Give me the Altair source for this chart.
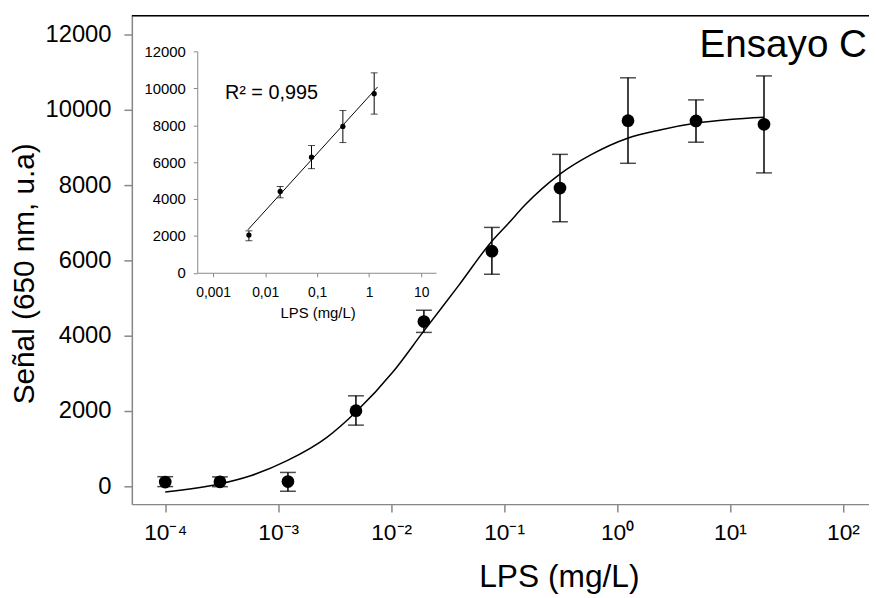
import json
import altair as alt
import pandas as pd

# ---------------- data ----------------
conc = [0.0001, 0.000305, 0.00122, 0.00488, 0.0195, 0.078, 0.3125, 1.25, 5.0, 20.0]
signal = [113, 120, 124, 2008, 4376, 6245, 7921, 9711, 9703, 9613]
sig_lo = [-8, -10, -132, 1624, 4087, 5632, 7026, 8579, 9139, 8324]
sig_hi = [255, 250, 368, 2403, 4676, 6876, 8816, 10850, 10263, 10900]

curve_x = [0.0001, 0.0003, 0.00057, 0.0012, 0.0027, 0.0049, 0.0104, 0.0192, 0.04,
           0.076, 0.109, 0.153, 0.31, 0.59, 1.24, 2.4, 4.9, 9.9, 20.0]
curve_y = [-150, 60, 280, 680, 1300, 1980, 3040, 4100, 5350,
           6470, 6980, 7470, 8285, 8808, 9245, 9465, 9640, 9740, 9800]

inset_conc = [0.00488, 0.0195, 0.078, 0.3125, 1.25]
inset_signal = [2042, 4407, 6266, 7932, 9706]
inset_lo = [1736, 4063, 5643, 7056, 8598]
inset_hi = [2273, 4675, 6895, 8792, 10834]
fit_x = [0.00466, 1.45]
fit_y = [2327, 10065]

main_xticks = [1e-4, 1e-3, 1e-2, 1e-1, 1, 10, 100]
main_xlabels = ["10⁻⁴", "10⁻³", "10⁻²", "10⁻¹", "10⁰", "10¹", "10²"]
yticks = [0, 2000, 4000, 6000, 8000, 10000, 12000]
inset_xticks = [0.001, 0.01, 0.1, 1, 10]
inset_xlabels = ["0,001", "0,01", "0,1", "1", "10"]

# ---------------- layout ----------------
W, H = 744, 493
FONT = "Liberation Sans"

main_df = pd.DataFrame({"conc": conc, "signal": signal, "lo": sig_lo, "hi": sig_hi})
curve_df = pd.DataFrame({"cx": curve_x, "cy": curve_y})
inset_df = pd.DataFrame({"conc": inset_conc, "signal": inset_signal, "lo": inset_lo, "hi": inset_hi})
fit_df = pd.DataFrame({"fx": fit_x, "fy": fit_y})

main_xs = alt.Scale(type="log", domain=[10 ** -4.2955, 10 ** 2.2306], nice=False)
main_ys = alt.Scale(domain=[-474, 12500], nice=False, zero=False)
inset_xs = alt.Scale(type="log", domain=[10 ** -3.305, 10 ** 1.286], range=[66, 307], nice=False)
inset_ys = alt.Scale(domain=[0, 12000], range=[259.5, 36], nice=False, zero=False)

main_x_axis = alt.Axis(
    values=main_xticks,
    labelExpr=json.dumps(main_xlabels, ensure_ascii=False) + "[round(log(datum.value)/LN10)+4]",
    tickSize=8, tickWidth=1.5, domainWidth=1.5, labelFontSize=23, labelPadding=10,
    titleFontSize=32, titleFontWeight="normal", titleX=431, titleY=83,
    titleBaseline="alphabetic", grid=False,
)
main_y_axis = alt.Axis(
    values=yticks, format="d", tickSize=8, tickWidth=1.5, domainWidth=1.5,
    labelFontSize=24, labelPadding=13, titleFontSize=30, titleFontWeight="normal",
    titleX=-93, titleY=260, titleAngle=270, grid=False,
)
inset_x_axis = alt.Axis(
    orient="bottom", offset=-233.5, values=inset_xticks,
    labelExpr=json.dumps(inset_xlabels, ensure_ascii=False) + "[round(log(datum.value)/LN10)+3]",
    tickSize=4, tickWidth=1, domainWidth=1, labelFontSize=14, labelPadding=9,
    title=None, grid=False,
)
inset_y_axis = alt.Axis(
    orient="left", offset=-66, values=yticks, format="d", tickSize=4, tickWidth=1,
    domainWidth=1, labelFontSize=15, labelPadding=8, title=None, grid=False,
)

XT = "LPS (mg/L)"
YT = "Señal (650 nm, u.a)"

m_points = alt.Chart(main_df).mark_circle(size=165, color="black", opacity=1).encode(
    x=alt.X("conc:Q", scale=main_xs, axis=main_x_axis, title=XT),
    y=alt.Y("signal:Q", scale=main_ys, axis=main_y_axis, title=YT),
)
m_err = alt.Chart(main_df).mark_errorbar(
    color="black", ticks={"size": 16, "thickness": 1.5}, rule={"strokeWidth": 1.5}
).encode(
    x=alt.X("conc:Q", scale=main_xs, axis=main_x_axis, title=XT),
    y=alt.Y("lo:Q", scale=main_ys, axis=main_y_axis, title=YT),
    y2="hi:Q",
)
m_curve = alt.Chart(curve_df).mark_line(color="black", strokeWidth=1.5, interpolate="monotone").encode(
    x=alt.X("cx:Q", scale=main_xs, axis=main_x_axis, title=XT),
    y=alt.Y("cy:Q", scale=main_ys, axis=main_y_axis, title=YT),
)
main_group = alt.layer(m_curve, m_err, m_points)

i_points = alt.Chart(inset_df).mark_circle(size=28, color="black", opacity=1).encode(
    x=alt.X("conc:Q", scale=inset_xs, axis=inset_x_axis),
    y=alt.Y("signal:Q", scale=inset_ys, axis=inset_y_axis),
)
i_err = alt.Chart(inset_df).mark_errorbar(
    color="black", ticks={"size": 7, "thickness": 1}, rule={"strokeWidth": 1}
).encode(
    x=alt.X("conc:Q", scale=inset_xs, axis=inset_x_axis),
    y=alt.Y("lo:Q", scale=inset_ys, axis=inset_y_axis),
    y2="hi:Q",
)
i_fit = alt.Chart(fit_df).mark_line(color="black", strokeWidth=1).encode(
    x=alt.X("fx:Q", scale=inset_xs, axis=inset_x_axis),
    y=alt.Y("fy:Q", scale=inset_ys, axis=inset_y_axis),
)
inset_group = alt.layer(i_fit, i_err, i_points)

one = pd.DataFrame({"t": ["Ensayo C"]})
frame_top = alt.Chart(one).mark_rule(color="black", strokeWidth=1.5).encode(
    x=alt.value(0), x2=alt.value(W), y=alt.value(0)
)
title_txt = alt.Chart(one).mark_text(
    font=FONT, fontSize=39, align="right", baseline="alphabetic", color="black"
).encode(x=alt.value(742), y=alt.value(42), text="t:N")
r2_txt = alt.Chart(pd.DataFrame({"t": ["R² = 0,995"]})).mark_text(
    font=FONT, fontSize=20, align="left", baseline="alphabetic", color="black"
).encode(x=alt.value(94), y=alt.value(84), text="t:N")
inset_title = alt.Chart(pd.DataFrame({"t": ["LPS (mg/L)"]})).mark_text(
    font=FONT, fontSize=15, align="center", baseline="alphabetic", color="black"
).encode(x=alt.value(188), y=alt.value(305), text="t:N")

chart = alt.layer(
    main_group, inset_group, frame_top, title_txt, r2_txt, inset_title
).resolve_scale(x="independent", y="independent").properties(
    width=W, height=H,
    padding={"left": 125, "top": 5, "right": 0, "bottom": 92},
    autosize=alt.AutoSizeParams(type="none"),
).configure_view(stroke=None).configure_axis(
    labelFont=FONT, titleFont=FONT, labelColor="black", titleColor="black",
    domainColor="black", tickColor="black", titleFontWeight="normal",
).configure(background="white")

chart.save("out.html", embed_options={"renderer": "svg", "actions": False})
